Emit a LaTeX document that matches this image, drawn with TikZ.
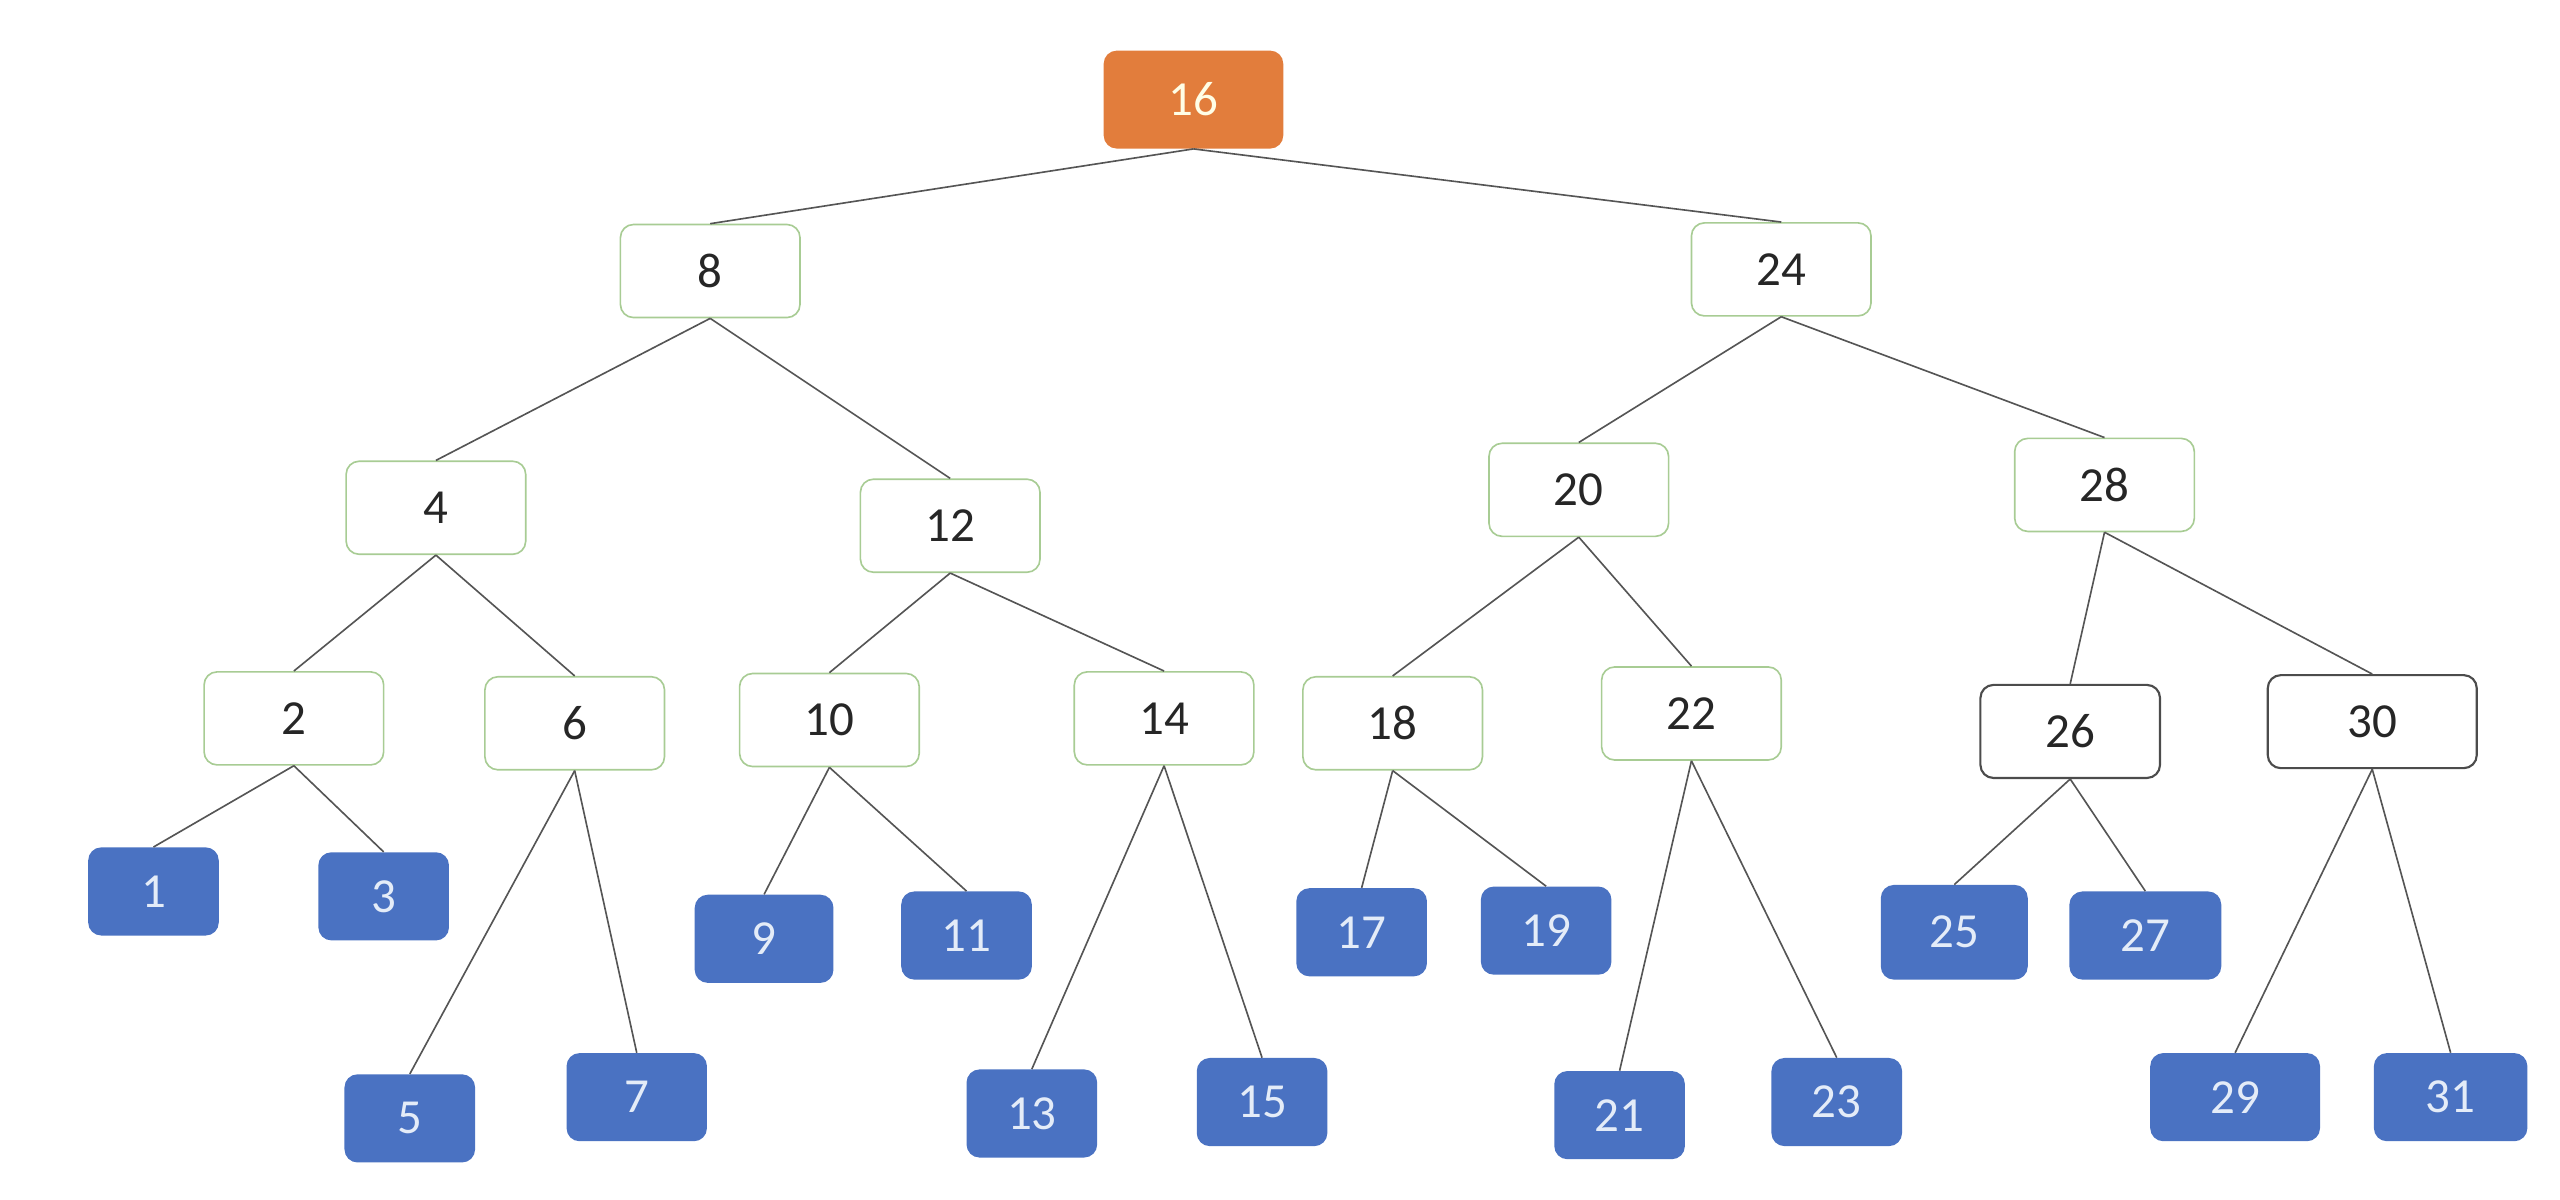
\documentclass[tikz,border=0pt]{standalone}
\usepackage{fontspec}
\setmainfont{Carlito}
\definecolor{rootfill}{HTML}{E27D3C}
\definecolor{leaffill}{HTML}{4A72C2}
\definecolor{leaftext}{HTML}{E4ECF8}
\definecolor{greenline}{HTML}{A8CC94}
\definecolor{edgegray}{HTML}{555555}
\begin{document}
\begin{tikzpicture}[x=1pt, y=-1pt,
  inner/.style={rectangle, rounded corners=8pt, draw=greenline, line width=1pt, fill=white, minimum width=110pt, minimum height=57pt, text=black!85, font=\fontsize{30}{36}\selectfont},
  darkinner/.style={inner, draw=black!70, line width=1.3pt},
  leaf/.style={rectangle, rounded corners=8pt, fill=leaffill, minimum width=80pt, minimum height=54pt, text=leaftext, font=\fontsize{30}{36}\selectfont},
  root/.style={rectangle, rounded corners=8pt, fill=rootfill, minimum width=110pt, minimum height=60pt, text=white!90!yellow, font=\fontsize{30}{36}\selectfont},
  edge/.style={draw=edgegray, line width=1pt}]
\useasboundingbox (0,0) rectangle (1568,734.4);
\node[root] (n16) at (731,61){16};
\node[inner] (n8) at (435,166){8};
\draw[edge](n16.south) -- (n8.north);
\node[inner] (n24) at (1091,165){24};
\draw[edge](n16.south) -- (n24.north);
\node[inner] (n4) at (267,311){4};
\draw[edge](n8.south) -- (n4.north);
\node[inner] (n12) at (582,322){12};
\draw[edge](n8.south) -- (n12.north);
\node[inner] (n20) at (967,300){20};
\draw[edge](n24.south) -- (n20.north);
\node[inner] (n28) at (1289,297){28};
\draw[edge](n24.south) -- (n28.north);
\node[inner] (n2) at (180,440){2};
\draw[edge](n4.south) -- (n2.north);
\node[inner] (n6) at (352,443){6};
\draw[edge](n4.south) -- (n6.north);
\node[inner] (n10) at (508,441){10};
\draw[edge](n12.south) -- (n10.north);
\node[inner] (n14) at (713,440){14};
\draw[edge](n12.south) -- (n14.north);
\node[inner] (n18) at (853,443){18};
\draw[edge](n20.south) -- (n18.north);
\node[inner] (n22) at (1036,437){22};
\draw[edge](n20.south) -- (n22.north);
\node[darkinner] (n26) at (1268,448){26};
\draw[edge](n28.south) -- (n26.north);
\node[darkinner, minimum width=128pt] (n30) at (1453,442){30};
\draw[edge](n28.south) -- (n30.north);
\node[leaf] (n1) at (94,546){1};
\draw[edge](n2.south) -- (n1.north);
\node[leaf] (n3) at (235,549){3};
\draw[edge](n2.south) -- (n3.north);
\node[leaf] (n5) at (251,685){5};
\draw[edge](n6.south) -- (n5.north);
\node[leaf, minimum width=86pt] (n7) at (390,672){7};
\draw[edge](n6.south) -- (n7.north);
\node[leaf, minimum width=85pt] (n9) at (468,575){9};
\draw[edge](n10.south) -- (n9.north);
\node[leaf] (n11) at (592,573){11};
\draw[edge](n10.south) -- (n11.north);
\node[leaf] (n13) at (632,682){13};
\draw[edge](n14.south) -- (n13.north);
\node[leaf] (n15) at (773,675){15};
\draw[edge](n14.south) -- (n15.north);
\node[leaf] (n17) at (834,571){17};
\draw[edge](n18.south) -- (n17.north);
\node[leaf] (n19) at (947,570){19};
\draw[edge](n18.south) -- (n19.north);
\node[leaf] (n21) at (992,683){21};
\draw[edge](n22.south) -- (n21.north);
\node[leaf] (n23) at (1125,675){23};
\draw[edge](n22.south) -- (n23.north);
\node[leaf, minimum width=90pt, minimum height=58pt] (n25) at (1197,571){25};
\draw[edge](n26.south) -- (n25.north);
\node[leaf, minimum width=93pt] (n27) at (1314,573){27};
\draw[edge](n26.south) -- (n27.north);
\node[leaf, minimum width=104pt] (n29) at (1369,672){29};
\draw[edge](n30.south) -- (n29.north);
\node[leaf, minimum width=94pt] (n31) at (1501,672){31};
\draw[edge](n30.south) -- (n31.north);

\end{tikzpicture}
\end{document}
